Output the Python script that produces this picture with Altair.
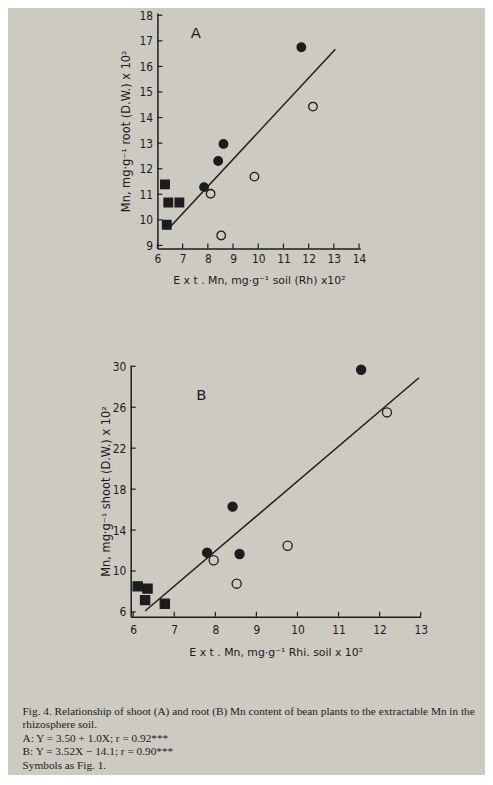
import altair as alt
import pandas as pd

# ---------------- data ----------------
# Panel A (root)
a_x = [6.30, 6.43, 6.87, 6.37, 7.85, 8.41, 8.62, 11.71, 8.11, 8.53, 9.85, 12.17]
a_y = [11.39, 10.68, 10.68, 9.81, 11.28, 12.30, 12.97, 16.75, 11.02, 9.39, 11.69, 14.43]
a_kind = ["sq", "sq", "sq", "sq", "fc", "fc", "fc", "fc", "oc", "oc", "oc", "oc"]
a_line_x = [6.52, 13.06]
a_line_y = [9.74, 16.67]

# Panel B (shoot)
b_x = [6.11, 6.35, 6.29, 6.77, 7.80, 8.59, 8.42, 11.55, 7.96, 8.52, 9.76, 12.18]
b_y = [8.50, 8.28, 7.15, 6.80, 11.79, 11.66, 16.29, 29.66, 11.05, 8.76, 12.47, 25.50]
b_kind = a_kind
b_line_x = [6.29, 12.96]
b_line_y = [6.09, 28.88]

a_xdom = [6.0, 14.05]
a_ydom = [8.88, 18.09]
b_xdom = [5.94, 13.0]
b_ydom = [5.54, 30.1]

a_xticks = [6, 7, 8, 9, 10, 11, 12, 13, 14]
a_yticks = [9, 10, 11, 12, 13, 14, 15, 16, 17, 18]
b_xticks = [6, 7, 8, 9, 10, 11, 12, 13]
b_yticks = [6, 10, 14, 18, 22, 26, 30]

a_label = {"x": [7.52], "y": [17.29], "t": ["A"]}
b_label = {"x": [7.66], "y": [27.18], "t": ["B"]}

caption = [
    "Fig. 4.    Relationship of shoot (A) and root (B) Mn content of bean plants to the extractable Mn in the",
    "rhizosphere soil.",
    "A: Y = 3.50 + 1.0X; r = 0.92***",
    "B: Y = 3.52X \u2212 14.1; r = 0.90***",
    "Symbols as Fig. 1.",
]

BG = "#cdcac2"
INK = "#1c1c1c"
LFONT = "Liberation Sans Narrow, DejaVu Sans Condensed, Liberation Sans, sans-serif"
TFONT = "DejaVu Sans"


def panel(xs, ys, kinds, lx, ly, lab, xdom, ydom, xt, yt, xtitle, ytitle, w, h, size,
          ytpad, xlpad, xtpad):
    pts = pd.DataFrame({"x": xs, "y": ys, "k": kinds})
    ln = pd.DataFrame({"x": lx, "y": ly})
    lb = pd.DataFrame(lab)
    tkx = pd.DataFrame({"x": xt, "y": [ydom[0]] * len(xt)})
    tky = pd.DataFrame({"x": [xdom[0]] * len(yt), "y": yt})
    xs_ = alt.Scale(domain=xdom, nice=False, zero=False)
    ys_ = alt.Scale(domain=ydom, nice=False, zero=False)
    common = dict(grid=False, ticks=False, labelFont=LFONT, labelFontSize=12, labelColor=INK,
                  titleFont=TFONT, titleColor=INK, titleFontWeight="normal", domainColor=INK,
                  domainWidth=1.5, labelOverlap=False, labelFlush=False)
    xax = alt.Axis(values=xt, title=xtitle, titleFontSize=11, titlePadding=xtpad,
                   labelPadding=xlpad, **common)
    yax = alt.Axis(values=yt, title=ytitle, titleFontSize=11.5, titlePadding=ytpad,
                   labelPadding=5, **common)
    X = alt.X("x:Q", scale=xs_, axis=xax)
    Y = alt.Y("y:Q", scale=ys_, axis=yax)
    line = alt.Chart(ln).mark_line(color=INK, strokeWidth=1.5).encode(x=X, y=Y)
    ticks_x = alt.Chart(tkx).mark_tick(orient="vertical", size=5, thickness=1.2, color=INK,
                                       opacity=1, yOffset=-2.5).encode(x=X, y=Y)
    ticks_y = alt.Chart(tky).mark_tick(orient="horizontal", size=5, thickness=1.2, color=INK,
                                       opacity=1, xOffset=2.5).encode(x=X, y=Y)
    points = alt.Chart(pts).mark_point(filled=True, size=size, opacity=1, strokeWidth=1.3,
                                       stroke=INK).encode(
        x=X,
        y=Y,
        shape=alt.Shape("k:N", scale=alt.Scale(domain=["sq", "fc", "oc"],
                                               range=["square", "circle", "circle"]), legend=None),
        fill=alt.Fill("k:N", scale=alt.Scale(domain=["sq", "fc", "oc"],
                                             range=[INK, INK, "transparent"]), legend=None),
    )
    text = alt.Chart(lb).mark_text(font=TFONT, fontSize=15, color=INK).encode(
        x=X, y=Y, text="t:N")
    return alt.layer(ticks_x, ticks_y, line, points, text).properties(width=w, height=h)


chart_a = panel(a_x, a_y, a_kind, a_line_x, a_line_y, a_label, a_xdom, a_ydom,
                a_xticks, a_yticks,
                "E x t   . Mn, mg\u00b7g\u207b\u00b9 soil (Rh) x10\u00b2",
                "Mn, mg\u00b7g\u207b\u00b9 root (D.W.) x 10\u00b2", 205, 238, 75, 7.5, 5, 10)
chart_b = panel(b_x, b_y, b_kind, b_line_x, b_line_y, b_label, b_xdom, b_ydom,
                b_xticks, b_yticks,
                "E x t   . Mn, mg\u00b7g\u207b\u00b9 Rhi. soil x 10\u00b2",
                "Mn, mg\u00b7g\u207b\u00b9 shoot (D.W.) x 10\u00b2", 293, 254, 85, 1, 8, 11)


def spacer(w):
    return alt.Chart(pd.DataFrame({"a": [0]})).mark_point(opacity=0).encode(
        x=alt.X("a:Q", axis=None), y=alt.Y("a:Q", axis=None)).properties(width=w, height=10)


top = alt.hconcat(spacer(24), chart_a, spacing=0)
bottom = alt.hconcat(spacer(1), chart_b, spacing=0)

chart = alt.vconcat(top, bottom, spacing=74).properties(
    title=alt.TitleParams(text=caption, orient="bottom", anchor="start", font="Liberation Serif",
                          fontSize=11.4, fontWeight="normal", color=INK, lineHeight=13.5,
                          dx=-70.5, offset=49),
    padding={"left": 14, "top": -4, "right": 1, "bottom": 0},
    background=BG,
).configure_view(stroke="transparent")

chart.save("out.html", embed_options={"renderer": "svg", "actions": False})
